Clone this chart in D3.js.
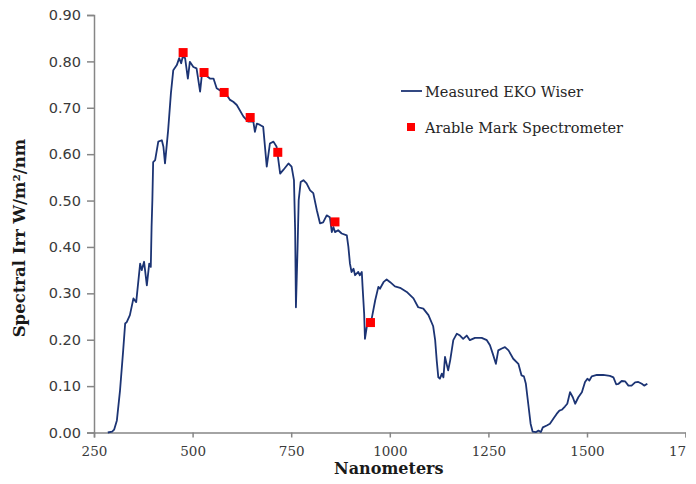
<!DOCTYPE html>
<html>
<head>
<meta charset="utf-8">
<script src="https://cdn.jsdelivr.net/npm/d3@7"></script>
<style>
  html, body { margin: 0; padding: 0; background: #fff; }
  svg { display: block; }
</style>
</head>
<body>
<svg id="chart" width="696" height="484"></svg>
<script>
// ---- Data ----
const wiserNm = [285,296,301,308,316,324,329,333,341,350,357,367,371,377,384,390,394,396,398,400,405,413,422,426,430,438,445,451,460,466,471,475,481,488,493,502,510,519,523,531,544,553,561,574,587,595,603,612,629,641,654,658,663,671,679,688,696,705,713,722,730,743,751,757,760,762,766,769,774,781,789,798,806,815,823,831,840,848,853,857,861,869,878,891,895,899,903,908,912,920,924,929,931,935,937,943,954,963,971,975,984,992,1001,1013,1026,1043,1060,1072,1085,1098,1110,1115,1119,1123,1127,1132,1136,1140,1144,1148,1153,1161,1170,1178,1186,1195,1203,1216,1233,1246,1254,1261,1269,1275,1284,1292,1301,1313,1326,1334,1340,1345,1351,1357,1362,1371,1377,1383,1388,1398,1406,1415,1423,1430,1436,1444,1450,1457,1464,1470,1478,1487,1495,1501,1506,1512,1525,1541,1558,1567,1574,1580,1588,1597,1605,1613,1622,1630,1639,1645,1653];
const wiserIrr = [0.000,0.002,0.006,0.026,0.091,0.177,0.235,0.238,0.253,0.289,0.281,0.364,0.350,0.368,0.317,0.364,0.357,0.443,0.501,0.583,0.587,0.627,0.630,0.616,0.580,0.652,0.731,0.781,0.792,0.807,0.796,0.810,0.807,0.763,0.799,0.788,0.785,0.735,0.767,0.771,0.763,0.763,0.742,0.735,0.727,0.717,0.713,0.706,0.681,0.670,0.670,0.648,0.666,0.663,0.659,0.573,0.623,0.627,0.616,0.558,0.566,0.580,0.573,0.544,0.436,0.270,0.393,0.501,0.540,0.544,0.537,0.522,0.516,0.479,0.451,0.453,0.468,0.464,0.432,0.443,0.432,0.436,0.429,0.425,0.400,0.364,0.346,0.353,0.339,0.346,0.339,0.346,0.314,0.256,0.202,0.235,0.245,0.285,0.314,0.310,0.324,0.330,0.324,0.315,0.312,0.303,0.289,0.270,0.267,0.253,0.229,0.199,0.155,0.119,0.116,0.127,0.119,0.163,0.148,0.134,0.155,0.199,0.213,0.209,0.202,0.209,0.199,0.204,0.204,0.199,0.188,0.170,0.148,0.177,0.181,0.184,0.177,0.159,0.148,0.123,0.121,0.105,0.062,0.019,0.002,0.001,0.004,0.001,0.011,0.015,0.019,0.030,0.040,0.047,0.049,0.056,0.062,0.087,0.076,0.062,0.076,0.087,0.109,0.116,0.112,0.121,0.124,0.124,0.122,0.119,0.104,0.105,0.111,0.110,0.101,0.101,0.108,0.109,0.105,0.101,0.105];

const arableNm  = [476, 529, 580, 646, 716, 861, 951];
const arableIrr = [0.819, 0.776, 0.733, 0.679, 0.604, 0.454, 0.237];

const xTicks = [250, 500, 750, 1000, 1250, 1500, 1750];
const yTicks = [0.00, 0.10, 0.20, 0.30, 0.40, 0.50, 0.60, 0.70, 0.80, 0.90];

const seriesNames = ["Measured EKO Wiser", "Arable Mark Spectrometer"];
const xTitle = "Nanometers";
const yTitle = "Spectral Irr W/m\u00B2/nm";

// ---- Layout ----
const svg = d3.select("#chart");
const padL = 94, padR = 685.6, padT = 15, padB = 432.5;
const axisColor = "#868686";
const lineColor = "#1c3474";
const markColor = "#ff0000";
const serif = "'DejaVu Serif', 'Liberation Serif', serif";
const sans = "'DejaVu Sans', Verdana, sans-serif";

const x = d3.scaleLinear().domain([250, 1750]).range([padL, padR]);
const y = d3.scaleLinear().domain([0, 0.9]).range([padB, padT]);

// The reference image is cropped at the right, cutting the last tick label
svg.append("defs").append("clipPath").attr("id", "pageclip")
  .append("rect").attr("x", 0).attr("y", -500).attr("width", 686).attr("height", 1000);

// Y axis
const yAxis = svg.append("g")
  .attr("transform", `translate(${padL},0)`)
  .call(d3.axisLeft(y).tickValues(yTicks).tickFormat(d3.format(".2f")).tickSize(7).tickPadding(6));
yAxis.select(".domain").attr("stroke", axisColor).attr("stroke-width", 1.5);
yAxis.selectAll(".tick line").attr("stroke", axisColor).attr("stroke-width", 1.5);
yAxis.selectAll(".tick text").attr("fill", "#3a3a3a").style("font-family", sans).style("font-size", "14.5px");

// X axis
const xAxis = svg.append("g")
  .attr("transform", `translate(0,${padB})`)
  .attr("clip-path", "url(#pageclip)")
  .call(d3.axisBottom(x).tickValues(xTicks).tickFormat(d3.format("d")).tickSize(5).tickPadding(9));
xAxis.select(".domain").attr("stroke", axisColor).attr("stroke-width", 1.5);
xAxis.selectAll(".tick line").attr("stroke", axisColor).attr("stroke-width", 1.5);
xAxis.selectAll(".tick text").attr("fill", "#3a3a3a").style("font-family", serif).style("font-size", "13.5px");

// Line series
const line = d3.line().x((d, i) => x(wiserNm[i])).y((d, i) => y(wiserIrr[i])).curve(d3.curveLinear);
svg.append("path")
  .datum(wiserIrr)
  .attr("d", line)
  .attr("fill", "none")
  .attr("stroke", lineColor)
  .attr("stroke-width", 1.8)
  .attr("stroke-linejoin", "round");

// Square markers
const sq = 9;
svg.append("g").selectAll("rect")
  .data(arableIrr)
  .join("rect")
  .attr("x", (d, i) => x(arableNm[i]) - sq / 2)
  .attr("y", d => y(d) - sq / 2)
  .attr("width", sq).attr("height", sq)
  .attr("fill", markColor);

// Axis titles
svg.append("text")
  .attr("x", (padL + padR) / 2 - 1).attr("y", 474)
  .attr("text-anchor", "middle")
  .style("font-family", serif).style("font-weight", "bold").style("font-size", "16px")
  .attr("fill", "#1a1a1a")
  .text(xTitle);

svg.append("text")
  .attr("transform", `translate(25,238) rotate(-90)`)
  .attr("text-anchor", "middle")
  .style("font-family", serif).style("font-weight", "bold").style("font-size", "16.5px")
  .attr("fill", "#1a1a1a")
  .text(yTitle);

// Legend
const lg = svg.append("g");
lg.append("line").attr("x1", 401).attr("x2", 422).attr("y1", 91).attr("y2", 91)
  .attr("stroke", lineColor).attr("stroke-width", 1.8);
lg.append("text").attr("x", 425).attr("y", 96.5)
  .style("font-family", serif).style("font-size", "14.5px").attr("fill", "#262626")
  .text(seriesNames[0]);
lg.append("rect").attr("x", 407).attr("y", 123).attr("width", 8).attr("height", 8).attr("fill", markColor);
lg.append("text").attr("x", 425).attr("y", 132.5)
  .style("font-family", serif).style("font-size", "14.5px").attr("fill", "#262626")
  .text(seriesNames[1]);
</script>
</body>
</html>
